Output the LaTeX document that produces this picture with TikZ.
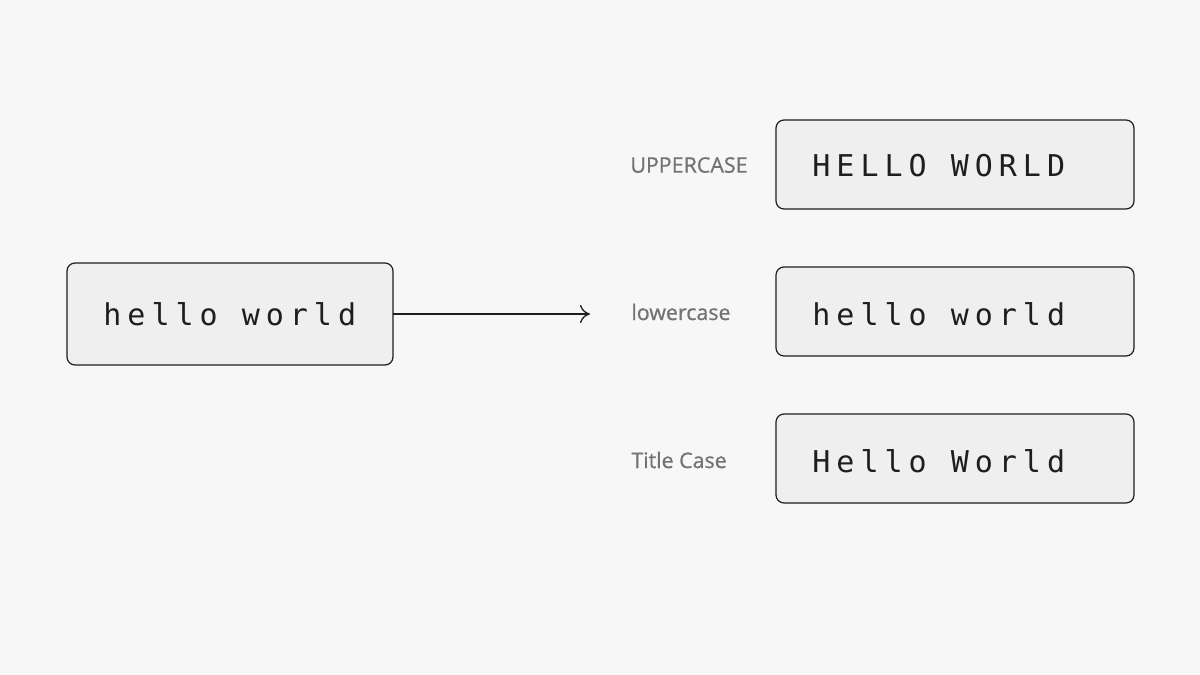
\documentclass[tikz,border=0pt]{standalone}
\usepackage{fontspec}
\setmainfont{Open Sans}
\newfontfamily\lblfont[FakeBold=0.8]{Open Sans}
\newfontfamily\boxmono[LetterSpace=20]{DejaVu Sans Mono}
\usetikzlibrary{arrows.meta}
\definecolor{bg}{HTML}{F7F7F7}
\definecolor{boxfill}{HTML}{EFEFEF}
\definecolor{ink}{HTML}{1E1E1E}
\definecolor{lblgray}{HTML}{737373}
\tikzset{
  casebox/.style={draw=ink, fill=boxfill, line width=0.6pt, rounded corners=4pt},
  boxtext/.style={anchor=west, inner sep=0pt, text=ink, font=\boxmono\fontsize{15pt}{18pt}\selectfont},
  lbl/.style={anchor=west, inner sep=0pt, text=lblgray, font=\lblfont\fontsize{10.7pt}{12pt}\selectfont},
  conn/.style={draw=ink, line width=0.65pt, -{To[length=5pt,width=9pt]}}
}
\begin{document}
\begin{tikzpicture}[x=0.5pt,y=-0.5pt]
\fill[bg] (0,0) rectangle (1200,675);
\useasboundingbox (0,0) rectangle (1200,675);
% source box
\path[casebox] (67,263) rectangle (393,365);
\coordinate (srcE) at (393,314);
\node[boxtext] (src) at (103,314) {hello world};
% arrow end
\coordinate (arrEnd) at (590,314);
\draw[conn] (srcE) -- (arrEnd);
% labels
\node[lbl] (lup) at (630,165) {UPPERCASE};
\node[lbl] (llow) at (631,312) {lowercase};
\node[lbl] (ltit) at (631,460) {Title Case};
% result boxes
\path[casebox] (776,120) rectangle (1134,209);
\node[boxtext] (rup) at (812,166) {HELLO WORLD};
\path[casebox] (776,267) rectangle (1134,356);
\node[boxtext] (rlow) at (812,314) {hello world};
\path[casebox] (776,414) rectangle (1134,503);
\node[boxtext] (rtit) at (812,461) {Hello World};
\end{tikzpicture}
\end{document}
